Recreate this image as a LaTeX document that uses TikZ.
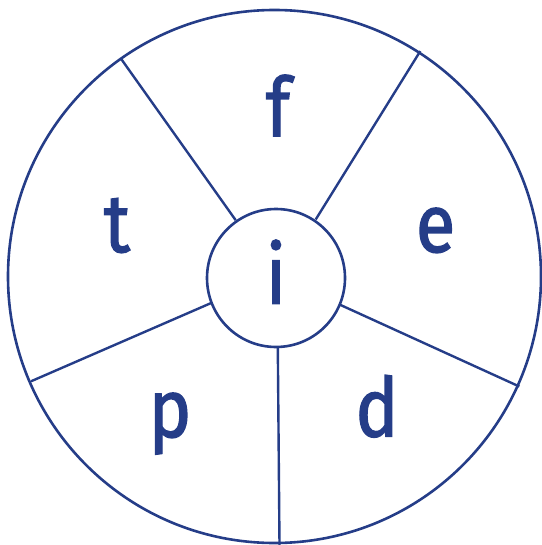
\documentclass[tikz,border=0pt]{standalone}
\usepackage{fontspec}
\newfontfamily\wheelfont{Fira Sans}[FakeBold=1.6,FakeStretch=0.88]
\definecolor{wheel}{HTML}{253D88}
\begin{document}
\begin{tikzpicture}[x=1pt,y=-1pt,
  rim/.style={draw=wheel,line width=2.6pt,fill=none},
  spoke/.style={draw=wheel,line width=2.4pt},
  letter/.style={text=wheel,font=\wheelfont\fontsize{82}{82}\selectfont,anchor=base,inner sep=0pt}]
\useasboundingbox (0,0) rectangle (541,545);
\path[rim] (274.5,276.5) circle (266.5);
\node[rim,circle,minimum size=138pt,inner sep=0pt] (hub) at (276,278) {};
\coordinate (o1) at (121.5,59.4);  \coordinate (i1) at (235.7,220.2);
\coordinate (o2) at (420.3,51.1);  \coordinate (i2) at (315.7,219.5);
\coordinate (o3) at (519.3,386.5); \coordinate (i3) at (339.9,304.7);
\coordinate (o4) at (279.5,545);   \coordinate (i4) at (277.8,347);
\coordinate (o5) at (31,381.3);    \coordinate (i5) at (211.2,303);
\foreach \k in {1,...,5} {\draw[spoke] (i\k) -- (o\k);}
\node[letter] (f) at (278,136.3) {f};
\node[letter] (t) at (117,252) {t};
\node[letter] (e) at (435.5,252) {e};
\node[letter] (i) at (276,303.7) {i};
\node[letter] (p) at (170,437) {p};
\node[letter] (d) at (377,436.5) {d};
\end{tikzpicture}
\end{document}
